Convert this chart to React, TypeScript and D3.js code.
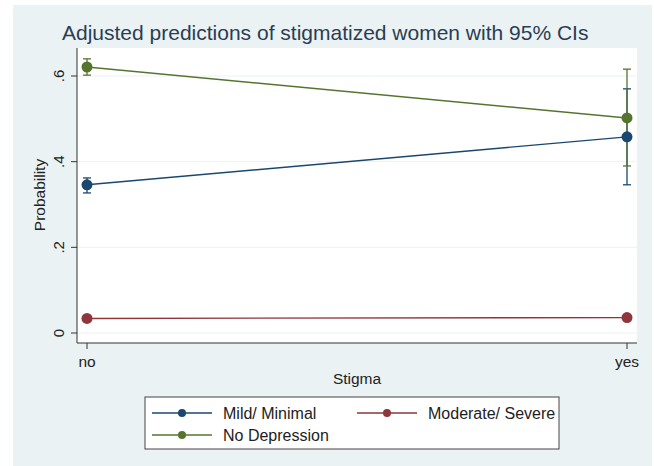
import React from "react";
import * as d3 from "d3";

const categories = ["no", "yes"];
const seriesNames = ["Mild/ Minimal", "Moderate/ Severe", "No Depression"];
const seriesColors = ["#1a476f", "#90353b", "#55752f"];
const mildValues = [0.346, 0.458];
const mildLow = [0.327, 0.346];
const mildHigh = [0.362, 0.570];
const modValues = [0.034, 0.036];
const modLow = [0.030, 0.031];
const modHigh = [0.038, 0.041];
const noDepValues = [0.621, 0.502];
const noDepLow = [0.602, 0.390];
const noDepHigh = [0.640, 0.616];
const yTicks = [0, 0.2, 0.4, 0.6];
const yTickLabels = ["0", ".2", ".4", ".6"];

const series = [
  { name: seriesNames[0], color: seriesColors[0], v: mildValues, lo: mildLow, hi: mildHigh },
  { name: seriesNames[1], color: seriesColors[1], v: modValues, lo: modLow, hi: modHigh },
  { name: seriesNames[2], color: seriesColors[2], v: noDepValues, lo: noDepLow, hi: noDepHigh },
];

export default function App() {
  const W = 654, H = 466;
  const plotL = 77, plotR = 637, plotT = 48, plotB = 343;
  const x = d3.scalePoint<string>().domain(categories).range([87, 627]);
  const y = d3.scaleLinear().domain([0, 0.6]).range([333, 76]);
  const font = "'Liberation Sans', Arial, sans-serif";
  const line = d3.line<number>().x((_, i) => x(categories[i])!).y((d) => y(d));
  const cap = 4;
  return (
    <svg width={W} height={H} style={{ position: "absolute", left: 0, top: 0 }} fontFamily={font}>
      <rect x={0} y={0} width={W} height={H} fill="#ffffff" />
      <rect x={13} y={5} width={639} height={461} fill="#eaf2f3" />
      <rect x={plotL} y={plotT} width={plotR - plotL} height={plotB - plotT} fill="#ffffff" />
      {yTicks.map((t) => (
        <line key={"g" + t} x1={plotL} x2={plotR} y1={y(t)} y2={y(t)} stroke="#eaf2f3" strokeWidth={1} />
      ))}
      <text x={62} y={40} fontSize={21} fill="#2a3d52">Adjusted predictions of stigmatized women with 95% CIs</text>
      {/* axes */}
      <line x1={plotL} x2={plotL} y1={plotT} y2={plotB} stroke="#333" strokeWidth={1} />
      <line x1={plotL} x2={plotR} y1={plotB} y2={plotB} stroke="#333" strokeWidth={1} />
      {yTicks.map((t, i) => (
        <g key={"t" + t}>
          <line x1={plotL - 6} x2={plotL} y1={y(t)} y2={y(t)} stroke="#333" />
          <text transform={`translate(${64},${y(t)}) rotate(-90)`} textAnchor="middle" fontSize={15} fill="#222">
            {yTickLabels[i]}
          </text>
        </g>
      ))}
      <text transform={`translate(${45},${195}) rotate(-90)`} textAnchor="middle" fontSize={15.5} fill="#222">Probability</text>
      {categories.map((c) => (
        <g key={c}>
          <line x1={x(c)} x2={x(c)} y1={plotB} y2={plotB + 6} stroke="#333" />
          <text x={x(c)} y={367} textAnchor="middle" fontSize={15.5} fill="#222">{c}</text>
        </g>
      ))}
      <text x={357} y={384} textAnchor="middle" fontSize={15.5} fill="#222">Stigma</text>
      {series.map((s) => (
        <g key={s.name}>
          {categories.map((c, i) => (
            <g key={c} stroke={s.color} strokeWidth={1.3}>
              <line x1={x(c)} x2={x(c)} y1={y(s.lo[i])} y2={y(s.hi[i])} />
              <line x1={x(c)! - cap} x2={x(c)! + cap} y1={y(s.lo[i])} y2={y(s.lo[i])} />
              <line x1={x(c)! - cap} x2={x(c)! + cap} y1={y(s.hi[i])} y2={y(s.hi[i])} />
            </g>
          ))}
        </g>
      ))}
      {series.map((s) => (
        <g key={"l" + s.name}>
          <path d={line(s.v)!} fill="none" stroke={s.color} strokeWidth={1.4} />
          {s.v.map((v, i) => (
            <circle key={i} cx={x(categories[i])} cy={y(v)} r={5.5} fill={s.color} />
          ))}
        </g>
      ))}
      {/* legend */}
      <rect x={145} y={397} width={414} height={52} fill="#ffffff" stroke="#444" strokeWidth={1} />
      {[
        { s: series[0], lx: 152, ty: 413 },
        { s: series[1], lx: 357, ty: 413 },
        { s: series[2], lx: 152, ty: 435 },
      ].map(({ s, lx, ty }) => (
        <g key={"lg" + s.name}>
          <line x1={lx} x2={lx + 60} y1={ty} y2={ty} stroke={s.color} strokeWidth={1.3} />
          <circle cx={lx + 30} cy={ty} r={4} fill={s.color} />
          <text x={lx + 71} y={ty + 5.5} fontSize={16} fill="#222">{s.name}</text>
        </g>
      ))}
    </svg>
  );
}
